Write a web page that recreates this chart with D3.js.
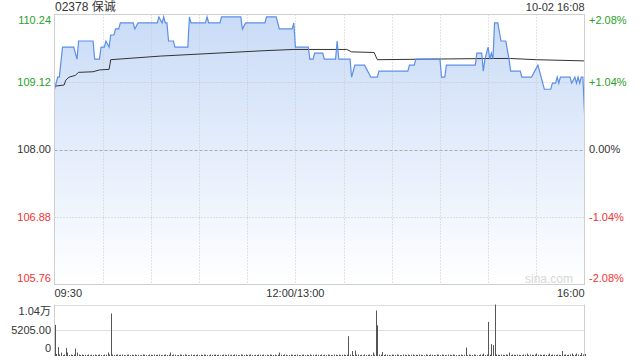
<!DOCTYPE html>
<html>
<head>
<meta charset="utf-8">
<script src="https://d3js.org/d3.v7.min.js"></script>
<style>
  body { margin: 0; background: #fff; }
  svg text { font-family: "Liberation Sans", Arial, "Noto Sans CJK SC", sans-serif; }
</style>
</head>
<body>
<div id="chart"></div>
<script>
// quote header
var title = "02378 保诚";
var stamp = "10-02 16:08";

// price axis (left) and percent axis (right)
var priceTicks = [110.24, 109.12, 108.00, 106.88, 105.76];
var pctTicks = ["+2.08%", "+1.04%", "0.00%", "-1.04%", "-2.08%"];
var prevClose = 108.00;

// time axis: minutes since 09:30 (lunch break removed), 330 = 16:00
var gridMin = [30, 60, 90, 120, 150, 180, 210, 240, 270, 300];
var timeLabels = ["09:30", "12:00/13:00", "16:00"];
var timeLabelMin = [0, 150, 330];

// price line as [minute] / [price] pairs
var priceMin = [0, 2, 3, 5, 12, 14, 15, 24, 25, 28, 29, 31, 32, 34, 35, 37, 38, 40, 41, 49, 50, 52, 64, 65, 67, 68, 69, 70, 71, 74, 75, 83, 84, 85, 94, 95, 96, 103, 104, 116, 117, 119, 131, 132, 138, 140, 148, 149, 150, 158, 159, 161, 162, 167, 168, 175, 176, 177, 184, 185, 187, 193, 195, 197, 201, 202, 220, 221, 224, 225, 240, 241, 243, 244, 262, 263, 266, 267, 268, 270, 271, 272, 273, 274, 276, 278, 281, 283, 284, 290, 291, 297, 299, 301, 302, 305, 309, 310, 312, 313, 314, 315, 321, 322, 324, 325, 326, 327, 328, 329, 330];
var priceVal = [109.0, 109.2, 109.2, 109.7, 109.7, 109.5, 109.8, 109.8, 109.5, 109.5, 109.7, 109.7, 109.8, 109.7, 109.9, 109.9, 110.0, 110.0, 110.1, 110.1, 110.0, 110.1, 110.1, 110.2, 110.1, 110.2, 110.1, 110.1, 109.8, 109.8, 109.7, 109.7, 110.2, 110.1, 110.1, 110.2, 110.1, 110.1, 110.2, 110.2, 110.0, 110.1, 110.1, 110.2, 110.2, 110.0, 110.0, 110.1, 109.7, 109.7, 109.5, 109.5, 109.6, 109.6, 109.5, 109.5, 109.8, 109.5, 109.5, 109.2, 109.4, 109.4, 109.3, 109.2, 109.2, 109.3, 109.3, 109.4, 109.4, 109.5, 109.5, 109.2, 109.2, 109.4, 109.4, 109.6, 109.6, 109.3, 109.5, 109.7, 109.5, 109.6, 109.5, 110.1, 110.1, 109.8, 109.8, 109.5, 109.3, 109.3, 109.2, 109.2, 109.3, 109.4, 109.3, 109.0, 109.0, 109.1, 109.1, 109.2, 109.1, 109.2, 109.2, 109.1, 109.2, 109.1, 109.2, 109.1, 109.2, 109.2, 108.6];

// average price line
var avgMin = [0, 6, 7, 9, 13, 15, 24, 28, 34, 35, 66, 131, 149, 182, 185, 199, 201, 271, 284, 300, 330];
var avgVal = [109.05, 109.07, 109.15, 109.2, 109.23, 109.28, 109.29, 109.32, 109.33, 109.49, 109.55, 109.64, 109.66, 109.66, 109.62, 109.61, 109.49, 109.51, 109.51, 109.49, 109.47];

// volume per minute, minute 0..330
var volume = [
  6300, 400, 1800, 300, 700, 200, 300, 1600, 700, 200, 300, 200, 300, 1500, 700, 300, 200, 300, 200, 250,
  200, 300, 150, 250, 200, 300, 200, 250, 300, 200, 150, 300, 250, 700, 300, 8600, 300, 200, 250, 300,
  200, 250, 300, 200, 150, 250, 300, 200, 250, 200, 300, 200, 250, 150, 200, 300, 250, 200, 150, 300,
  250, 200, 300, 200, 250, 300, 200, 150, 250, 300, 200, 250, 700, 200, 300, 250, 150, 200, 300, 250,
  200, 300, 250, 200, 150, 300, 200, 250, 200, 300, 150, 250, 200, 300, 250, 200, 150, 300, 200, 250,
  300, 200, 250, 150, 200, 300, 250, 200, 300, 150, 250, 200, 300, 250, 200, 150, 300, 250, 200, 300,
  200, 250, 300, 200, 150, 250, 200, 300, 250, 200, 300, 150, 250, 200, 300, 250, 200, 300, 150, 250,
  700, 250, 200, 300, 250, 150, 200, 300, 250, 200, 250, 300, 200, 150, 250, 300, 200, 250, 200, 300,
  150, 250, 200, 300, 250, 200, 300, 150, 250, 200, 300, 250, 200, 150, 300, 250, 200, 300, 200, 250,
  300, 200, 250, 4000, 300, 1000, 200, 1100, 250, 300, 200, 250, 150, 300, 200, 250, 300, 200, 700, 250,
  9200, 6200, 300, 250, 800, 200, 300, 250, 200, 150, 300, 250, 200, 300, 250, 200, 150, 300, 250, 200,
  300, 200, 250, 300, 150, 250, 200, 300, 250, 200, 150, 300, 250, 200, 300, 250, 200, 150, 300, 250,
  200, 300, 250, 200, 150, 300, 250, 200, 300, 250, 200, 150, 250, 300, 200, 250, 1700, 200, 300, 250,
  200, 300, 250, 150, 200, 300, 250, 500, 200, 300, 6900, 250, 2400, 2200, 10400, 300, 250, 200, 300, 250,
  200, 300, 250, 700, 200, 300, 250, 200, 300, 250, 200, 150, 300, 250, 500, 200, 300, 250, 200, 300,
  500, 250, 300, 200, 250, 300, 200, 250, 500, 200, 300, 250, 200, 300, 250, 200, 1000, 250, 300, 200,
  250, 300, 500, 200, 250, 500, 300, 200, 600, 300, 400
];
var volTicks = [10410, 5205, 0];
var volLabels = ["1.04万", "5205.00", "0"];

var W = 640, H = 360;
var L = 54.5, R = 584.5, T = 14.5, B = 284.5;
var VT = 304.5, VB = 356;
var green = "#27a127", red = "#f03333", txt = "#333";

var svg = d3.select("#chart").append("svg")
    .attr("width", W).attr("height", H);

var x = d3.scaleLinear().domain([0, 330]).range([L, R]);
var y = d3.scaleLinear().domain([105.76, 110.24]).range([B, T]);
var vy = d3.scaleLinear().domain([0, 10410]).range([VB, VT]);

function tickColor(v) { return v > prevClose + 1e-9 ? green : (v < prevClose - 1e-9 ? red : txt); }

// gradient fill under the price
var grad = svg.append("defs").append("linearGradient")
    .attr("id", "fillGrad").attr("gradientUnits", "userSpaceOnUse")
    .attr("x1", 0).attr("y1", T).attr("x2", 0).attr("y2", B);
grad.append("stop").attr("offset", 0).attr("stop-color", "#c9dbf7");
grad.append("stop").attr("offset", 1).attr("stop-color", "#ffffff");

var pts = priceMin.map(function(m, i){ return [m, priceVal[i]]; });
var apts = avgMin.map(function(m, i){ return [m, avgVal[i]]; });

svg.append("path")
    .datum(pts)
    .attr("fill", "url(#fillGrad)")
    .attr("d", d3.area().x(function(d){ return x(d[0]); }).y0(B).y1(function(d){ return y(d[1]); }));

// grid
svg.selectAll("line.hgrid")
  .data(priceTicks.slice(1, 4))
  .enter().append("line")
    .attr("x1", L).attr("x2", R)
    .attr("y1", function(d){ return Math.round(y(d)) + 0.5; })
    .attr("y2", function(d){ return Math.round(y(d)) + 0.5; })
    .attr("stroke", function(d){ return d === prevClose ? "#aaa" : "#c4c4c4"; })
    .attr("stroke-dasharray", function(d){ return d === prevClose ? "3,2" : "1,2"; });

svg.selectAll("line.vgrid")
  .data(gridMin)
  .enter().append("line")
    .attr("x1", function(d){ return Math.round(x(d)) + 0.5; })
    .attr("x2", function(d){ return Math.round(x(d)) + 0.5; })
    .attr("y1", T).attr("y2", B)
    .attr("stroke", "#c8c8c8")
    .attr("stroke-dasharray", "1,2");

// price + average lines
svg.append("path")
    .datum(apts)
    .attr("fill", "none").attr("stroke", "#333").attr("stroke-width", 1)
    .attr("d", d3.line().x(function(d){ return x(d[0]); }).y(function(d){ return y(d[1]); }));

svg.append("path")
    .datum(pts)
    .attr("fill", "none").attr("stroke", "#5b8fe8").attr("stroke-width", 1.2)
    .attr("d", d3.line().x(function(d){ return x(d[0]); }).y(function(d){ return y(d[1]); }));

// border of price panel
svg.append("rect")
    .attr("x", L).attr("y", T).attr("width", R - L).attr("height", B - T)
    .attr("fill", "none").attr("stroke", "#cfcfcf");

// watermark
svg.append("text")
    .attr("x", 573).attr("y", 283)
    .attr("text-anchor", "end")
    .attr("font-size", 12).attr("fill", "#d8d8d8")
    .text("sina.com");

// left / right labels
var lblY = function(i){ return i === 0 ? T + 6 : (i === 4 ? B - 6 : y(priceTicks[i])); };
svg.selectAll("text.pl")
  .data(priceTicks)
  .enter().append("text")
    .attr("x", 51).attr("y", function(d, i){ return lblY(i); })
    .attr("dy", "0.35em").attr("text-anchor", "end")
    .attr("font-size", 11)
    .attr("fill", function(d){ return tickColor(d); })
    .text(function(d){ return d.toFixed(2); });

svg.selectAll("text.pr")
  .data(pctTicks)
  .enter().append("text")
    .attr("x", 589).attr("y", function(d, i){ return lblY(i); })
    .attr("dy", "0.35em")
    .attr("font-size", 11)
    .attr("fill", function(d, i){ return tickColor(priceTicks[i]); })
    .text(function(d){ return d; });

// time labels
svg.selectAll("text.tl")
  .data(timeLabels)
  .enter().append("text")
    .attr("x", function(d, i){ return x(timeLabelMin[i]); })
    .attr("y", 297)
    .attr("text-anchor", function(d, i){ return ["start", "middle", "end"][i]; })
    .attr("font-size", 11).attr("fill", txt)
    .text(function(d){ return d; });

// header
svg.append("text").attr("x", 55).attr("y", 11)
    .attr("font-size", 12).attr("fill", txt).text(title);
svg.append("text").attr("x", R).attr("y", 11).attr("text-anchor", "end")
    .attr("font-size", 11).attr("fill", txt).text(stamp);

// volume panel
svg.selectAll("line.vg")
  .data(volTicks.slice(0, 2))
  .enter().append("line")
    .attr("x1", L).attr("x2", R)
    .attr("y1", function(d){ return Math.round(vy(d)) + 0.5; })
    .attr("y2", function(d){ return Math.round(vy(d)) + 0.5; })
    .attr("stroke", "#bbb").attr("stroke-dasharray", "1,1");

svg.append("line").attr("x1", L).attr("x2", L).attr("y1", VT).attr("y2", VB).attr("stroke", "#cfcfcf");
svg.append("line").attr("x1", R).attr("x2", R).attr("y1", VT).attr("y2", VB).attr("stroke", "#cfcfcf");

svg.selectAll("rect.vb")
  .data(volume)
  .enter().append("rect")
    .attr("x", function(d, i){ return Math.round(x(i)); })
    .attr("y", function(d){ return vy(d); })
    .attr("width", 1)
    .attr("height", function(d){ return VB - vy(d); })
    .attr("fill", "#555");

svg.selectAll("text.vl")
  .data(volLabels)
  .enter().append("text")
    .attr("x", 51)
    .attr("y", function(d, i){ return [311, 330, 348][i]; })
    .attr("dy", "0.35em").attr("text-anchor", "end")
    .attr("font-size", 11).attr("fill", txt)
    .text(function(d){ return d; });
</script>
</body>
</html>
